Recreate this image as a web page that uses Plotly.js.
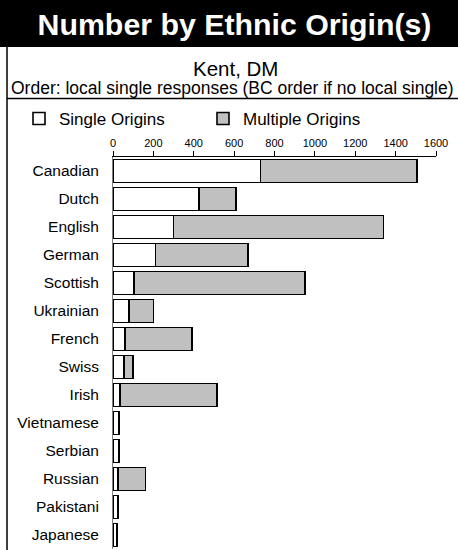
<!DOCTYPE html>
<html>
<head>
<meta charset="utf-8">
<script src="https://cdn.plot.ly/plotly-3.0.1.min.js"></script>
<style>html,body{margin:0;padding:0;background:#fff;}#chart{width:458px;height:550px;}</style>
</head>
<body>
<div id="chart"></div>
<script>
const categories = ['Canadian','Dutch','English','German','Scottish','Ukrainian','French','Swiss','Irish','Vietnamese','Serbian','Russian','Pakistani','Japanese'];
const singleOrigins = [730, 425, 300, 210, 105, 80, 60, 55, 35, 30, 30, 25, 25, 20];
const multipleOrigins = [775, 185, 1040, 460, 845, 120, 330, 45, 480, 0, 0, 135, 0, 0];
const xTicks = [0, 200, 400, 600, 800, 1000, 1200, 1400, 1600];

const FONT = 'Liberation Sans, Arial, sans-serif';
const W = 458, H = 550;
const L = 113, R = 436, T = 157, B = 549;
const px2x = p => (p - L) / (R - L);
const px2y = p => (B - p) / (B - T);

const traces = [
  {type:'bar', orientation:'h', name:'Single Origins', y:categories, x:singleOrigins,
   marker:{color:'#ffffff', line:{color:'#000000', width:1.6}}, hoverinfo:'x+y'},
  {type:'bar', orientation:'h', name:'Multiple Origins', y:categories, x:multipleOrigins,
   marker:{color:'#c0c0c0', line:{color:'#000000', width:1.6}}, hoverinfo:'x+y'}
];

const layout = {
  width: W, height: H,
  margin: {l: L, r: W - R, t: T, b: H - B, pad: 0},
  paper_bgcolor: '#ffffff', plot_bgcolor: '#ffffff',
  font: {family: FONT, color: '#000000'},
  barmode: 'stack', bargap: 0.18,
  title: {text: '<b>Number by Ethnic Origin(s)</b>', font: {family: FONT, size: 30.3, color: '#ffffff'},
          x: 234.5 / W, xanchor: 'center', xref: 'container', y: 1 - 24 / H, yanchor: 'middle', yref: 'container'},
  xaxis: {side: 'top', range: [0, 1600], tickvals: xTicks, ticktext: xTicks.map(String),
          ticks: 'outside', ticklen: 5, tickcolor: '#000', tickwidth: 1,
          showline: true, linecolor: '#000', linewidth: 1, showgrid: false, zeroline: false,
          tickfont: {family: FONT, size: 11, color: '#000'}, fixedrange: true},
  yaxis: {type: 'category', categoryorder: 'array', categoryarray: categories, autorange: 'reversed',
          showline: true, linecolor: '#808080', linewidth: 1, ticks: '', showgrid: false, zeroline: false,
          ticklabelstandoff: 10, tickfont: {family: FONT, size: 15.5, color: '#000'}, fixedrange: true},
  showlegend: true,
  legend: {orientation: 'h', x: px2x(19), xanchor: 'left', y: px2y(119), yanchor: 'middle',
           font: {family: FONT, size: 17, color: '#000'}, bgcolor: 'rgba(0,0,0,0)',
           traceorder: 'normal', entrywidth: 139, entrywidthmode: 'pixels', itemclick: false},
  shapes: [
    {type: 'rect', xref: 'paper', yref: 'paper', x0: px2x(0), x1: px2x(W), y0: px2y(0), y1: px2y(47),
     fillcolor: '#000000', line: {width: 0}, layer: 'below'},
    {type: 'line', xref: 'paper', yref: 'paper', x0: px2x(7), x1: px2x(7), y0: px2y(47), y1: px2y(H),
     line: {color: '#000', width: 1.5}},
    {type: 'line', xref: 'paper', yref: 'paper', x0: px2x(7), x1: px2x(W), y0: px2y(98.5), y1: px2y(98.5),
     line: {color: '#000', width: 1.5}}
  ],
  annotations: [
    {text: 'Kent, DM', xref: 'paper', yref: 'paper', x: px2x(235), y: px2y(68), xanchor: 'center', yanchor: 'middle',
     showarrow: false, font: {family: FONT, size: 20.5, color: '#000'}},
    {text: 'Order: local single responses (BC order if no local single)', xref: 'paper', yref: 'paper',
     x: px2x(232.5), y: px2y(88), xanchor: 'center', yanchor: 'middle',
     showarrow: false, font: {family: FONT, size: 17.5, color: '#000'}}
  ]
};

Plotly.newPlot('chart', traces, layout, {displayModeBar: false, staticPlot: true});
</script>
</body>
</html>
